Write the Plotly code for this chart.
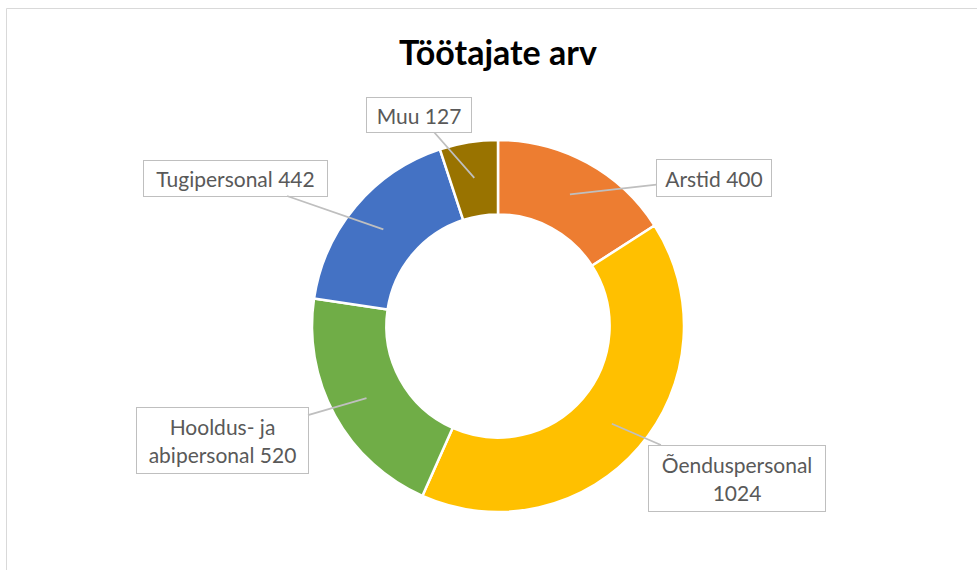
import numpy as np
import plotly.graph_objects as go

TITLE = "Töötajate arv"
CATEGORIES = ["Arstid", "Õenduspersonal", "Hooldus- ja abipersonal", "Tugipersonal", "Muu"]
VALUES = [400, 1024, 520, 442, 127]
LABEL_TEXT = ["Arstid 400", "Õenduspersonal<br>1024", "Hooldus- ja<br>abipersonal 520",
              "Tugipersonal 442", "Muu 127"]
COLORS = ["#ED7D31", "#FFC000", "#70AD47", "#4472C4", "#997300"]

W, H = 977, 570
CX, CY, R = 498, 326, 186  # donut centre and outer radius, px
HOLE = 0.6
TIP_R = 150  # radius where leader lines end, px

# callout boxes: centre x, centre y, width, height (px)
BOXES = [
    (714, 178, 116, 38),
    (737, 478, 178, 67),
    (222, 440, 173, 67),
    (235, 178, 185, 37),
    (419, 115, 106, 36),
]

fig = go.Figure()
fig.add_trace(
    go.Pie(
        labels=CATEGORIES,
        values=VALUES,
        hole=HOLE,
        sort=False,
        direction="clockwise",
        rotation=0,
        marker={"colors": COLORS, "line": {"color": "white", "width": 2.5}},
        textinfo="none",
        hoverinfo="label+value",
        showlegend=False,
        domain={"x": [(CX - R) / W, (CX + R) / W], "y": [1 - (CY + R) / H, 1 - (CY - R) / H]},
    )
)

# leader-line tips at the middle angle of each slice
vals = np.array(VALUES, dtype=float)
ends = np.cumsum(vals) / vals.sum() * 360.0
mids = np.deg2rad(ends - vals / vals.sum() * 180.0)
tip_x = CX + TIP_R * np.sin(mids)
tip_y = CY - TIP_R * np.cos(mids)

for text, (bx, by, bw, bh), tx, ty in zip(LABEL_TEXT, BOXES, tip_x, tip_y):
    fig.add_annotation(
        x=tx / W,
        y=1 - ty / H,
        xref="paper",
        yref="paper",
        ax=bx - tx,
        ay=by - ty,
        axref="pixel",
        ayref="pixel",
        text=text,
        showarrow=True,
        arrowhead=0,
        arrowwidth=1.8,
        arrowcolor="#BFBFBF",
        font={"family": "Lato, Open Sans, sans-serif", "size": 21, "color": "#595959"},
        bgcolor="white",
        bordercolor="#BFBFBF",
        borderwidth=1,
        borderpad=0,
        width=bw - 2,
        height=bh - 2,
        align="center",
        valign="middle",
    )

# chart area border
fig.add_shape(
    type="rect",
    xref="paper",
    yref="paper",
    x0=6.5 / W,
    x1=1.05,
    y0=-0.05,
    y1=1 - 8.5 / H,
    line={"color": "#D9D9D9", "width": 1},
    layer="below",
)

fig.update_layout(
    width=W,
    height=H,
    margin={"l": 0, "r": 0, "t": 0, "b": 0},
    paper_bgcolor="white",
    plot_bgcolor="white",
    title={
        "text": TITLE,
        "x": 498 / W,
        "xanchor": "center",
        "y": 1 - 53 / H,
        "yanchor": "middle",
        "font": {"family": "Lato, Open Sans, sans-serif", "size": 34, "color": "#000000", "weight": "bold"},
    },
)

# drop the default 8px page margin so the figure sits at the window's corner
fig.write_html(
    "out.html",
    config={"displayModeBar": False},
    post_script="document.body.style.margin = '0';",
)
